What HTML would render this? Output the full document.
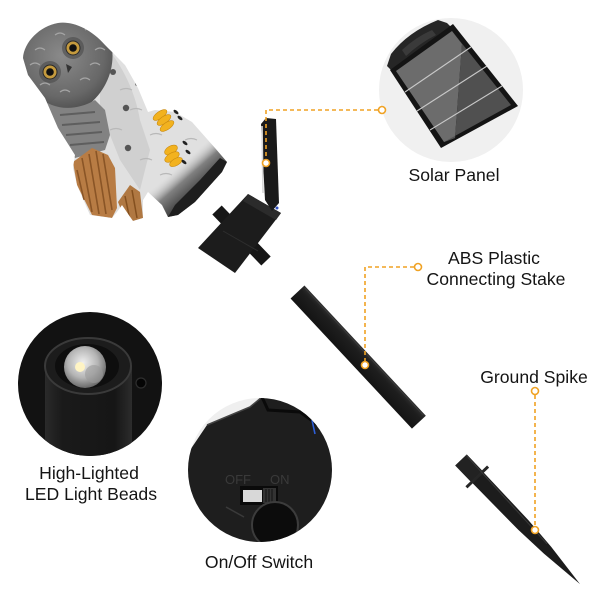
<!DOCTYPE html>
<html><head><meta charset="utf-8">
<style>
html,body{margin:0;padding:0;background:#fff;width:600px;height:600px;overflow:hidden}
svg{display:block}
.t{font-family:"Liberation Sans",Arial,sans-serif;font-size:17.6px;fill:#141414}
</style></head><body>
<svg width="600" height="600" viewBox="0 0 600 600" xmlns="http://www.w3.org/2000/svg">
<defs>
  <clipPath id="owlclip">
    <path d="M23,58 C24,42 40,26 58,23 C72,21 90,28 105,45 C115,55 122,62 125,65 L138,88 L148,112 L155,110 L175,112 L192,122 L215,148 L227,162 L222,172 L195,202 L178,215 L168,217 L162,205 L148,192 L143,200 L143,218 L133,221 L122,205 L117,212 L112,218 L90,215 L77,185 L73,168 L75,155 L58,128 L45,98 L28,75 Z"/>
  </clipPath>
  <linearGradient id="owlbase" gradientUnits="userSpaceOnUse" x1="178" y1="166" x2="206" y2="198">
    <stop offset="0" stop-color="#d8d8d8" stop-opacity="0"/>
    <stop offset="0.35" stop-color="#808080"/>
    <stop offset="1" stop-color="#1a1a1a"/>
  </linearGradient>
  <radialGradient id="head" cx="0.45" cy="0.4" r="0.7">
    <stop offset="0" stop-color="#8a8a8a"/>
    <stop offset="0.65" stop-color="#686868"/>
    <stop offset="1" stop-color="#444"/>
  </radialGradient>
  <radialGradient id="lens" cx="0.45" cy="0.4" r="0.65">
    <stop offset="0" stop-color="#f0f0f0"/>
    <stop offset="0.55" stop-color="#b4b4b4"/>
    <stop offset="1" stop-color="#5a5a5a"/>
  </radialGradient>
  <linearGradient id="cyl" x1="0" y1="0" x2="1" y2="0">
    <stop offset="0" stop-color="#2a2a2a"/>
    <stop offset="0.2" stop-color="#1a1a1a"/>
    <stop offset="0.8" stop-color="#161616"/>
    <stop offset="1" stop-color="#2c2c2c"/>
  </linearGradient>
  <clipPath id="swc"><circle cx="260" cy="470" r="72"/></clipPath>
  <clipPath id="ledc"><circle cx="90" cy="384" r="72"/></clipPath>
  <linearGradient id="tube" x1="0" y1="0" x2="0" y2="1">
    <stop offset="0" stop-color="#2e2e2e"/>
    <stop offset="0.3" stop-color="#1e1e1e"/>
    <stop offset="1" stop-color="#141414"/>
  </linearGradient>
</defs>

<!-- ===== OWL ===== -->
<g>
  <path d="M23,58 C24,42 40,26 58,23 C72,21 90,28 105,45 C115,55 122,62 125,65 L138,88 L148,112 L155,110 L175,112 L192,122 L215,148 L227,162 L222,172 L195,202 L178,215 L168,217 L162,205 L148,192 L143,200 L143,218 L133,221 L122,205 L117,212 L112,218 L90,215 L77,185 L73,168 L75,155 L58,128 L45,98 L28,75 Z" fill="#e0e0e0"/>
  <g clip-path="url(#owlclip)">
    <path d="M100,40 C120,60 135,90 140,120 L150,150 L140,190 L120,160 L100,110 Z" fill="#d0d0d0"/>
    <path d="M130,110 q6,-3 12,0 M150,135 q6,-3 12,0 M140,160 q6,-3 12,0 M160,175 q6,-3 12,0 M185,140 q6,-3 12,0 M120,90 q6,-3 12,0 M110,130 q6,-3 12,0" stroke="#b8b8b8" stroke-width="1.2" fill="none"/>
    <!-- head -->
    <path d="M20,60 C22,38 42,20 62,20 C85,20 102,32 112,48 C115,70 105,92 88,105 C70,115 50,108 38,96 C28,85 20,72 20,60 Z" fill="url(#head)"/>
    <!-- left side wing grey -->
    <path d="M38,96 C52,110 75,112 95,100 L105,110 L110,135 L105,150 L75,158 C62,135 50,115 38,96 Z" fill="#828282"/>
    <path d="M60,115 L95,112 M62,125 L100,122 M66,135 L102,132 M70,145 L104,142" stroke="#5e5e5e" stroke-width="2" fill="none"/>
    <!-- facial details -->
    <circle cx="73" cy="48" r="11" fill="#4a4a4a" opacity="0.6"/>
    <circle cx="50" cy="72" r="11" fill="#4a4a4a" opacity="0.6"/>
    <circle cx="73" cy="48" r="7" fill="#c49a3e" stroke="#2a2a2a" stroke-width="1"/>
    <circle cx="73" cy="48" r="3.8" fill="#111"/>
    <circle cx="50" cy="72" r="7" fill="#c49a3e" stroke="#2a2a2a" stroke-width="1"/>
    <circle cx="50" cy="72" r="3.8" fill="#111"/>
    <path d="M66,64 L72,67 L68,73 Z" fill="#333"/>
    <path d="M35,50 q5,-4 10,0 M85,30 q5,-4 10,0 M90,65 q5,-4 10,0 M80,80 q5,-4 10,0 M60,92 q5,-4 10,0 M40,85 q5,-4 10,0 M95,50 q5,-4 10,0 M55,35 q5,-4 10,0 M30,65 q5,-4 10,0" stroke="#a4a4a4" stroke-width="1.2" fill="none"/>
    <circle cx="113" cy="72" r="3" fill="#555"/>
    <circle cx="126" cy="108" r="3.2" fill="#555"/>
    <circle cx="128" cy="148" r="3.2" fill="#555"/>
    <circle cx="137" cy="84" r="2" fill="#777"/>
    <!-- dark base -->
    <path d="M140,200 L205,130 L240,160 L180,230 Z" fill="url(#owlbase)"/>
    <path d="M168,217 L178,215 L195,202 L222,172 L227,162 L220,158 L200,180 L175,205 Z" fill="#1e1e1e"/>
    <!-- brown wing -->
    <path d="M73,162 L92,148 L108,155 L115,168 L117,208 L112,218 L92,215 L77,185 Z" fill="#b87c44"/>
    <path d="M82,158 L92,212 M89,154 L99,214 M96,151 L106,214 M103,154 L112,210 M77,170 L84,200" stroke="#8a5526" stroke-width="1.6" fill="none"/>
    <path d="M118,202 L130,185 L140,192 L143,218 L133,221 L122,212 Z" fill="#b07842"/>
    <path d="M125,196 L130,220 M132,190 L137,218" stroke="#84501f" stroke-width="1.5" fill="none"/>
  </g>
  <g fill="#f2b21f" stroke="#c98a10" stroke-width="0.6">
    <ellipse cx="160" cy="115" rx="8" ry="3.5" transform="rotate(-35 160 115)"/>
    <ellipse cx="164" cy="120" rx="8" ry="3.5" transform="rotate(-35 164 120)"/>
    <ellipse cx="167" cy="126" rx="8" ry="3.5" transform="rotate(-35 167 126)"/>
    <ellipse cx="171" cy="150" rx="7" ry="4" transform="rotate(-30 171 150)"/>
    <ellipse cx="172" cy="157" rx="8" ry="4" transform="rotate(-30 172 157)"/>
    <ellipse cx="176" cy="162" rx="7" ry="3.5" transform="rotate(-30 176 162)"/>
  </g>
  <g fill="#222">
    <ellipse cx="176" cy="112" rx="3" ry="1.5" transform="rotate(40 176 112)"/>
    <ellipse cx="180" cy="118" rx="3" ry="1.5" transform="rotate(40 180 118)"/>
    <ellipse cx="185" cy="143" rx="3" ry="1.5" transform="rotate(40 185 143)"/>
    <ellipse cx="188" cy="152" rx="3" ry="1.5" transform="rotate(40 188 152)"/>
    <ellipse cx="184" cy="162" rx="3" ry="1.5" transform="rotate(40 184 162)"/>
  </g>
</g>

<!-- ===== HOUSING ===== -->
<line x1="217" y1="210" x2="266" y2="261" stroke="#161616" stroke-width="13"/>
<polygon points="248,194 281,213 235,273 198,248" fill="#1c1c1c"/>
<polygon points="248,194 281,213 276,220 243,201" fill="#2b2b2b"/>
<line x1="223" y1="231" x2="258" y2="251" stroke="#2e2e2e" stroke-width="1"/>
<polygon points="261,124 266,118 276,119 279,203 272,211 265,200" fill="#1a1a1a"/>
<line x1="262" y1="126" x2="263" y2="193" stroke="#d8d8d8" stroke-width="1.6"/>
<circle cx="277" cy="208" r="1.5" fill="#3050c0"/>

<!-- ===== SOLAR PANEL ===== -->
<circle cx="451" cy="90" r="72" fill="#f0f0f0"/>
<path d="M387,66 L391,54 Q408,32 438,20 L447,23 L451,27 L391,70 Z" fill="#262626"/>
<path d="M402,50 Q416,37 432,30 L436,35 Q420,43 406,56 Z" fill="#3a3a3a"/>
<polygon points="390,70 453,24 518,106 441,148" fill="#141414"/>
<polygon points="396,71 452,31 462,44 455,138 444,142" fill="#6c6c6c"/>
<polygon points="452,31 511,105 444,142 455,138 462,44" fill="#505050"/>
<g stroke="#c8c8c8" stroke-width="1.1">
  <line x1="405" y1="92" x2="471" y2="47"/>
  <line x1="417" y1="111" x2="487" y2="66"/>
  <line x1="430" y1="130" x2="502" y2="86"/>
</g>

<!-- ===== CONNECTING STAKE ===== -->
<g transform="translate(297.5,292) rotate(47)">
  <rect x="0" y="-9.5" width="178" height="19" fill="url(#tube)"/>
  <line x1="2" y1="-8" x2="176" y2="-8" stroke="#3a3a3a" stroke-width="1"/>
</g>

<!-- ===== GROUND SPIKE ===== -->
<g transform="translate(461,460) rotate(46.2)">
  <polygon points="0,-8 0,8 90,7 125,5 172,0 125,-5 90,-7" fill="#1c1c1c"/>
  <rect x="0" y="-8" width="22" height="16" fill="#222"/>
  <rect x="22" y="-15" width="3" height="30" fill="#262626"/>
  <line x1="0" y1="-7" x2="120" y2="-4" stroke="#3a3a3a" stroke-width="1"/>
</g>

<!-- ===== LED CIRCLE ===== -->
<circle cx="90" cy="384" r="72" fill="#121212"/>
<g clip-path="url(#ledc)">
  <rect x="45" y="366" width="87" height="100" fill="url(#cyl)"/>
  <ellipse cx="88" cy="366" rx="43" ry="28" fill="#1c1c1c" stroke="#3a3a3a" stroke-width="2"/>
  <ellipse cx="87" cy="366" rx="32" ry="22" fill="#0e0e0e"/>
  <circle cx="85" cy="367" r="21" fill="url(#lens)"/>
  <circle cx="94" cy="374" r="9" fill="#9a9a9a" opacity="0.6"/>
  <circle cx="80" cy="367" r="5" fill="#fff4c4"/>
  <circle cx="141" cy="383" r="5" fill="#050505" stroke="#2e2e2e" stroke-width="1.2"/>
</g>

<!-- ===== SWITCH CIRCLE ===== -->
<circle cx="260" cy="470" r="72" fill="#efefef"/>
<g clip-path="url(#swc)">
  <path d="M180,465 L207,425 L250,407 L262,397 L300,400 L316,418 L340,440 L340,560 L180,560 Z" fill="#1e1e1e"/>
  <path d="M207,425 L250,407 L262,397" stroke="#444" stroke-width="1.5" fill="none"/>
  <path d="M262,397 L268,410 L300,412 L318,425" stroke="#0a0a0a" stroke-width="3" fill="none"/>
  <line x1="312" y1="420" x2="315" y2="434" stroke="#2d5fd8" stroke-width="1.6"/>
  <text x="225" y="484" font-family="Liberation Sans,Arial,sans-serif" font-size="13" fill="#3a3a3a">OFF</text>
  <text x="270" y="484" font-family="Liberation Sans,Arial,sans-serif" font-size="13" fill="#3a3a3a">ON</text>
  <rect x="240" y="486" width="38" height="19" fill="#0a0a0a"/>
  <rect x="243" y="490" width="19" height="12" fill="#d8d8d8"/>
  <rect x="263" y="488" width="13" height="15" fill="#333"/>
  <path d="M266,489 v13 M269,489 v13 M272,489 v13" stroke="#111" stroke-width="1"/>
  <line x1="226" y1="507" x2="244" y2="517" stroke="#3a3a3a" stroke-width="1.5"/>
  <circle cx="275" cy="525" r="23" fill="#0c0c0c" stroke="#3c3c3c" stroke-width="2"/>
</g>

<!-- ===== CONNECTORS ===== -->
<g fill="none" stroke="#f0a223" stroke-width="1.6" stroke-dasharray="4,3">
  <polyline points="378,110 266,110 266,160"/>
  <polyline points="414,267 365,267 365,361"/>
  <polyline points="535,395 535,526"/>
</g>
<g fill="#fff" stroke="#f0a223" stroke-width="1.6">
  <circle cx="382" cy="110" r="3.5"/>
  <circle cx="266" cy="163" r="3.5"/>
  <circle cx="418" cy="267" r="3.5"/>
  <circle cx="365" cy="365" r="3.5"/>
  <circle cx="535" cy="391" r="3.5"/>
  <circle cx="535" cy="530" r="3.5"/>
</g>

<!-- ===== LABELS ===== -->
<text class="t" x="454" y="181" text-anchor="middle">Solar Panel</text>
<text class="t" x="494" y="264" text-anchor="middle">ABS Plastic</text>
<text class="t" x="496" y="285" text-anchor="middle">Connecting Stake</text>
<text class="t" x="534" y="383" text-anchor="middle">Ground Spike</text>
<text class="t" x="89" y="479" text-anchor="middle">High-Lighted</text>
<text class="t" x="91" y="500" text-anchor="middle">LED Light Beads</text>
<text class="t" x="259" y="568" text-anchor="middle">On/Off Switch</text>
</svg>
</body></html>
